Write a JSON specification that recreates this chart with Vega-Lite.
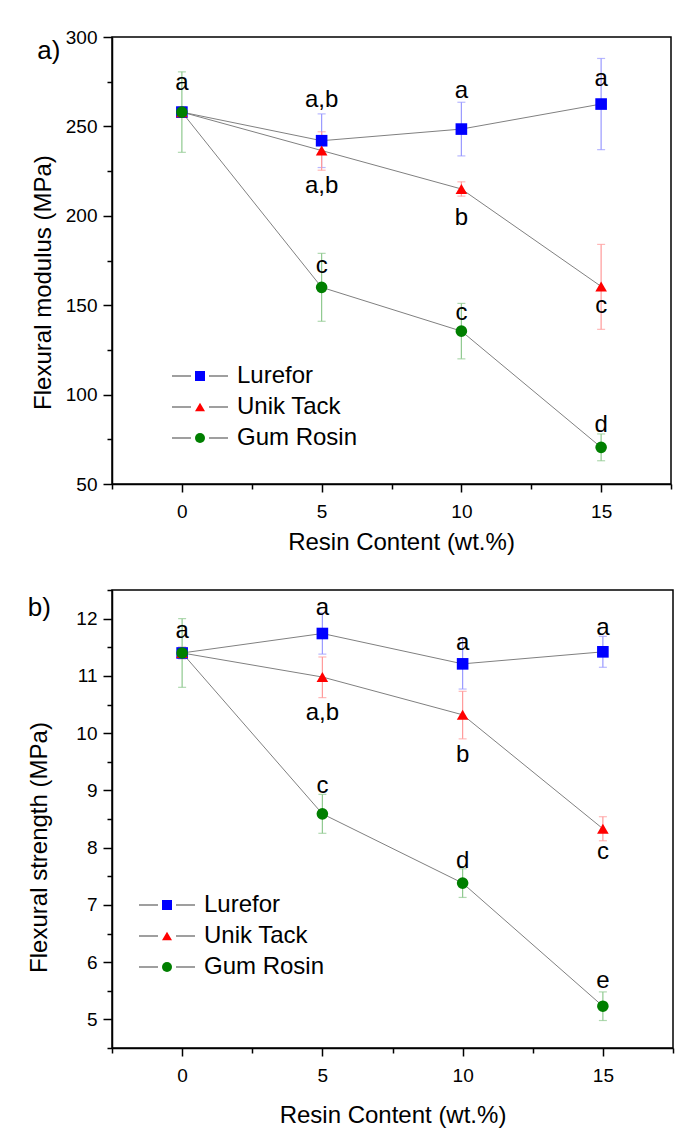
{
  "$schema": "https://vega.github.io/schema/vega-lite/v6.json",
  "background": "white",
  "padding": {"left": 27, "top": 27, "right": 5, "bottom": 5},
  "config": {
    "font": "Liberation Sans",
    "view": {"stroke": "black", "strokeWidth": 1.5},
    "axis": {
      "domainColor": "black", "domainWidth": 1.5, "tickColor": "black", "tickWidth": 1.5,
      "grid": false, "labelFont": "Liberation Sans", "labelFontSize": 19, "labelColor": "black",
      "titleFont": "Liberation Sans", "titleFontSize": 24, "titleFontWeight": "normal", "titleColor": "black",
      "labelOverlap": false, "labelFlush": false
    },
    "legend": {"labelFont": "Liberation Sans", "labelFontSize": 24, "labelColor": "black", "padding": 0},
    "title": {"font": "Liberation Sans", "fontSize": 26, "fontWeight": "normal", "color": "black", "anchor": "start", "frame": "bounds"}
  },
  "spacing": 25,
  "datasets": {
    "modulus": [
      {"series": "Lurefor", "x": 0, "y": 258, "lo": 256, "hi": 260},
      {"series": "Lurefor", "x": 5, "y": 242, "lo": 227, "hi": 257},
      {"series": "Lurefor", "x": 10, "y": 248.5, "lo": 233.5, "hi": 263.5},
      {"series": "Lurefor", "x": 15, "y": 262.5, "lo": 237, "hi": 288},
      {"series": "Unik Tack", "x": 0, "y": 258, "lo": 255, "hi": 261},
      {"series": "Unik Tack", "x": 5, "y": 236.5, "lo": 225.5, "hi": 247},
      {"series": "Unik Tack", "x": 10, "y": 215, "lo": 211, "hi": 219},
      {"series": "Unik Tack", "x": 15, "y": 160.5, "lo": 136.5, "hi": 184},
      {"series": "Gum Rosin", "x": 0, "y": 258, "lo": 235.5, "hi": 280.5},
      {"series": "Gum Rosin", "x": 5, "y": 160, "lo": 141, "hi": 179},
      {"series": "Gum Rosin", "x": 10, "y": 135.5, "lo": 120, "hi": 151},
      {"series": "Gum Rosin", "x": 15, "y": 70.5, "lo": 63, "hi": 78}
    ],
    "modLabels": [
      {"x": 0, "y": 274, "text": "a"},
      {"x": 5, "y": 264.5, "text": "a,b"},
      {"x": 5, "y": 216.5, "text": "a,b"},
      {"x": 5, "y": 172, "text": "c"},
      {"x": 10, "y": 270, "text": "a"},
      {"x": 10, "y": 198.5, "text": "b"},
      {"x": 10, "y": 145.5, "text": "c"},
      {"x": 15, "y": 276.5, "text": "a"},
      {"x": 15, "y": 149.5, "text": "c"},
      {"x": 15, "y": 83, "text": "d"}
    ],
    "strength": [
      {"series": "Lurefor", "x": 0, "y": 11.4, "lo": 11.3, "hi": 11.5},
      {"series": "Lurefor", "x": 5, "y": 11.74, "lo": 11.38, "hi": 12.1},
      {"series": "Lurefor", "x": 10, "y": 11.21, "lo": 10.77, "hi": 11.65},
      {"series": "Lurefor", "x": 15, "y": 11.42, "lo": 11.15, "hi": 11.69},
      {"series": "Unik Tack", "x": 0, "y": 11.4, "lo": 11.3, "hi": 11.5},
      {"series": "Unik Tack", "x": 5, "y": 10.98, "lo": 10.62, "hi": 11.33},
      {"series": "Unik Tack", "x": 10, "y": 10.32, "lo": 9.9, "hi": 10.73},
      {"series": "Unik Tack", "x": 15, "y": 8.33, "lo": 8.12, "hi": 8.54},
      {"series": "Gum Rosin", "x": 0, "y": 11.4, "lo": 10.8, "hi": 12.0},
      {"series": "Gum Rosin", "x": 5, "y": 8.59, "lo": 8.25, "hi": 8.93},
      {"series": "Gum Rosin", "x": 10, "y": 7.38, "lo": 7.13, "hi": 7.63},
      {"series": "Gum Rosin", "x": 15, "y": 5.23, "lo": 4.98, "hi": 5.48}
    ],
    "strLabels": [
      {"x": 0, "y": 11.78, "text": "a"},
      {"x": 5, "y": 12.19, "text": "a"},
      {"x": 5, "y": 10.35, "text": "a,b"},
      {"x": 5, "y": 9.07, "text": "c"},
      {"x": 10, "y": 11.58, "text": "a"},
      {"x": 10, "y": 9.61, "text": "b"},
      {"x": 10, "y": 7.76, "text": "d"},
      {"x": 15, "y": 11.84, "text": "a"},
      {"x": 15, "y": 7.92, "text": "c"},
      {"x": 15, "y": 5.67, "text": "e"}
    ]
  },
  "vconcat": [
    {
      "width": 559, "height": 447,
      "title": {"text": "a)", "dx": 6, "dy": 40},
      "data": {"name": "modulus"},
      "encoding": {
        "x": {"field": "x", "type": "quantitative", "title": "Resin Content (wt.%)",
          "scale": {"domain": [-2.5, 17.5], "nice": false, "zero": false},
          "axis": {"values": [-2.5, 0, 2.5, 5, 7.5, 10, 12.5, 15, 17.5],
            "labelExpr": "datum.value % 5 == 0 ? datum.label : ''",
            "tickSize": {"condition": {"test": "datum.value % 5 == 0", "value": 8}, "value": 5},
            "labelPadding": 10, "titlePadding": 9, "titleX": 289}},
        "y": {"field": "y", "type": "quantitative", "title": "Flexural modulus (MPa)",
          "scale": {"domain": [50, 300], "nice": false, "zero": false},
          "axis": {"values": [50, 75, 100, 125, 150, 175, 200, 225, 250, 275, 300],
            "labelExpr": "datum.value % 50 == 0 ? datum.label : ''",
            "tickSize": {"condition": {"test": "datum.value % 50 == 0", "value": 9}, "value": 5},
            "labelPadding": 6, "titlePadding": 10, "titleY": 245}}
      },
      "layer": [
        {
          "mark": {"type": "line", "strokeWidth": 1},
          "encoding": {
            "color": {"field": "series", "type": "nominal",
              "scale": {"domain": ["Lurefor", "Unik Tack", "Gum Rosin"], "range": ["#808080", "#808080", "#808080"]},
              "legend": {"orient": "none", "legendX": 76, "legendY": 327, "title": null,
                "symbolType": "M-5.6,0H-1.8M1.8,0H5.6", "symbolSize": 100, "symbolStrokeWidth": 1.3,
                "symbolStrokeColor": "#808080", "labelColor": "transparent", "labelOffset": 25, "rowPadding": 7}}
          }
        },
        {
          "mark": {"type": "errorbar", "ticks": {"size": 8}, "thickness": 1.2},
          "encoding": {
            "y": {"field": "lo", "type": "quantitative", "title": "Flexural modulus (MPa)", "scale": {"domain": [50, 300], "nice": false, "zero": false}},
            "y2": {"field": "hi"},
            "color": {"field": "series", "type": "nominal",
              "scale": {"domain": ["Lurefor", "Unik Tack", "Gum Rosin"], "range": ["#9a9aff", "#ff9a9a", "#8fc98f"]},
              "legend": null}
          }
        },
        {
          "mark": {"type": "point", "filled": true, "size": 135, "opacity": 1},
          "encoding": {
            "color": {"field": "series", "type": "nominal",
              "scale": {"domain": ["Lurefor", "Unik Tack", "Gum Rosin"], "range": ["#0000ff", "#ff0000", "#007f00"]},
              "legend": {"orient": "none", "legendX": 76, "legendY": 327, "title": null,
                "symbolSize": 100, "symbolStrokeWidth": 1.3, "labelOffset": 25, "rowPadding": 7}},
            "shape": {"field": "series", "type": "nominal",
              "scale": {"domain": ["Lurefor", "Unik Tack", "Gum Rosin"], "range": ["square", "triangle-up", "circle"]},
              "legend": {"orient": "none", "legendX": 76, "legendY": 327, "title": null,
                "symbolSize": 100, "symbolStrokeWidth": 1.3, "labelOffset": 25, "rowPadding": 7}}
          }
        },
        {
          "data": {"name": "modLabels"},
          "mark": {"type": "text", "fontSize": 24, "color": "black", "baseline": "middle", "font": "Liberation Sans"},
          "encoding": {
            "y": {"field": "y", "type": "quantitative", "title": "Flexural modulus (MPa)", "scale": {"domain": [50, 300], "nice": false, "zero": false}},
            "text": {"field": "text"}
          }
        }
      ],
      "resolve": {"scale": {"color": "independent", "shape": "independent"}, "legend": {"color": "independent", "shape": "independent"}}
    },
    {
      "width": 561, "height": 458,
      "title": {"text": "b)", "dx": 0, "dy": 44},
      "data": {"name": "strength"},
      "encoding": {
        "x": {"field": "x", "type": "quantitative", "title": "Resin Content (wt.%)",
          "scale": {"domain": [-2.5, 17.5], "nice": false, "zero": false},
          "axis": {"values": [-2.5, 0, 2.5, 5, 7.5, 10, 12.5, 15, 17.5],
            "labelExpr": "datum.value % 5 == 0 ? datum.label : ''",
            "tickSize": {"condition": {"test": "datum.value % 5 == 0", "value": 8}, "value": 5},
            "labelPadding": 10, "titlePadding": 18}},
        "y": {"field": "y", "type": "quantitative", "title": "Flexural strength (MPa)",
          "scale": {"domain": [4.5, 12.5], "nice": false, "zero": false},
          "axis": {"values": [4.5, 5, 5.5, 6, 6.5, 7, 7.5, 8, 8.5, 9, 9.5, 10, 10.5, 11, 11.5, 12, 12.5],
            "labelExpr": "datum.value % 1 == 0 ? format(datum.value, '.0f') : ''",
            "tickSize": {"condition": {"test": "datum.value % 1 == 0", "value": 9}, "value": 5},
            "labelPadding": 6, "titlePadding": 24, "titleY": 257}}
      },
      "layer": [
        {
          "mark": {"type": "line", "strokeWidth": 1},
          "encoding": {
            "color": {"field": "series", "type": "nominal",
              "scale": {"domain": ["Lurefor", "Unik Tack", "Gum Rosin"], "range": ["#808080", "#808080", "#808080"]},
              "legend": {"orient": "none", "legendX": 43, "legendY": 303, "title": null,
                "symbolType": "M-5.6,0H-1.8M1.8,0H5.6", "symbolSize": 100, "symbolStrokeWidth": 1.3,
                "symbolStrokeColor": "#808080", "labelColor": "transparent", "labelOffset": 25, "rowPadding": 7}}
          }
        },
        {
          "mark": {"type": "errorbar", "ticks": {"size": 8}, "thickness": 1.2},
          "encoding": {
            "y": {"field": "lo", "type": "quantitative", "title": "Flexural strength (MPa)", "scale": {"domain": [4.5, 12.5], "nice": false, "zero": false}},
            "y2": {"field": "hi"},
            "color": {"field": "series", "type": "nominal",
              "scale": {"domain": ["Lurefor", "Unik Tack", "Gum Rosin"], "range": ["#9a9aff", "#ff9a9a", "#8fc98f"]},
              "legend": null}
          }
        },
        {
          "mark": {"type": "point", "filled": true, "size": 135, "opacity": 1},
          "encoding": {
            "color": {"field": "series", "type": "nominal",
              "scale": {"domain": ["Lurefor", "Unik Tack", "Gum Rosin"], "range": ["#0000ff", "#ff0000", "#007f00"]},
              "legend": {"orient": "none", "legendX": 43, "legendY": 303, "title": null,
                "symbolSize": 100, "symbolStrokeWidth": 1.3, "labelOffset": 25, "rowPadding": 7}},
            "shape": {"field": "series", "type": "nominal",
              "scale": {"domain": ["Lurefor", "Unik Tack", "Gum Rosin"], "range": ["square", "triangle-up", "circle"]},
              "legend": {"orient": "none", "legendX": 43, "legendY": 303, "title": null,
                "symbolSize": 100, "symbolStrokeWidth": 1.3, "labelOffset": 25, "rowPadding": 7}}
          }
        },
        {
          "data": {"name": "strLabels"},
          "mark": {"type": "text", "fontSize": 24, "color": "black", "baseline": "middle", "font": "Liberation Sans"},
          "encoding": {
            "y": {"field": "y", "type": "quantitative", "title": "Flexural strength (MPa)", "scale": {"domain": [4.5, 12.5], "nice": false, "zero": false}},
            "text": {"field": "text"}
          }
        }
      ],
      "resolve": {"scale": {"color": "independent", "shape": "independent"}, "legend": {"color": "independent", "shape": "independent"}}
    }
  ]
}
